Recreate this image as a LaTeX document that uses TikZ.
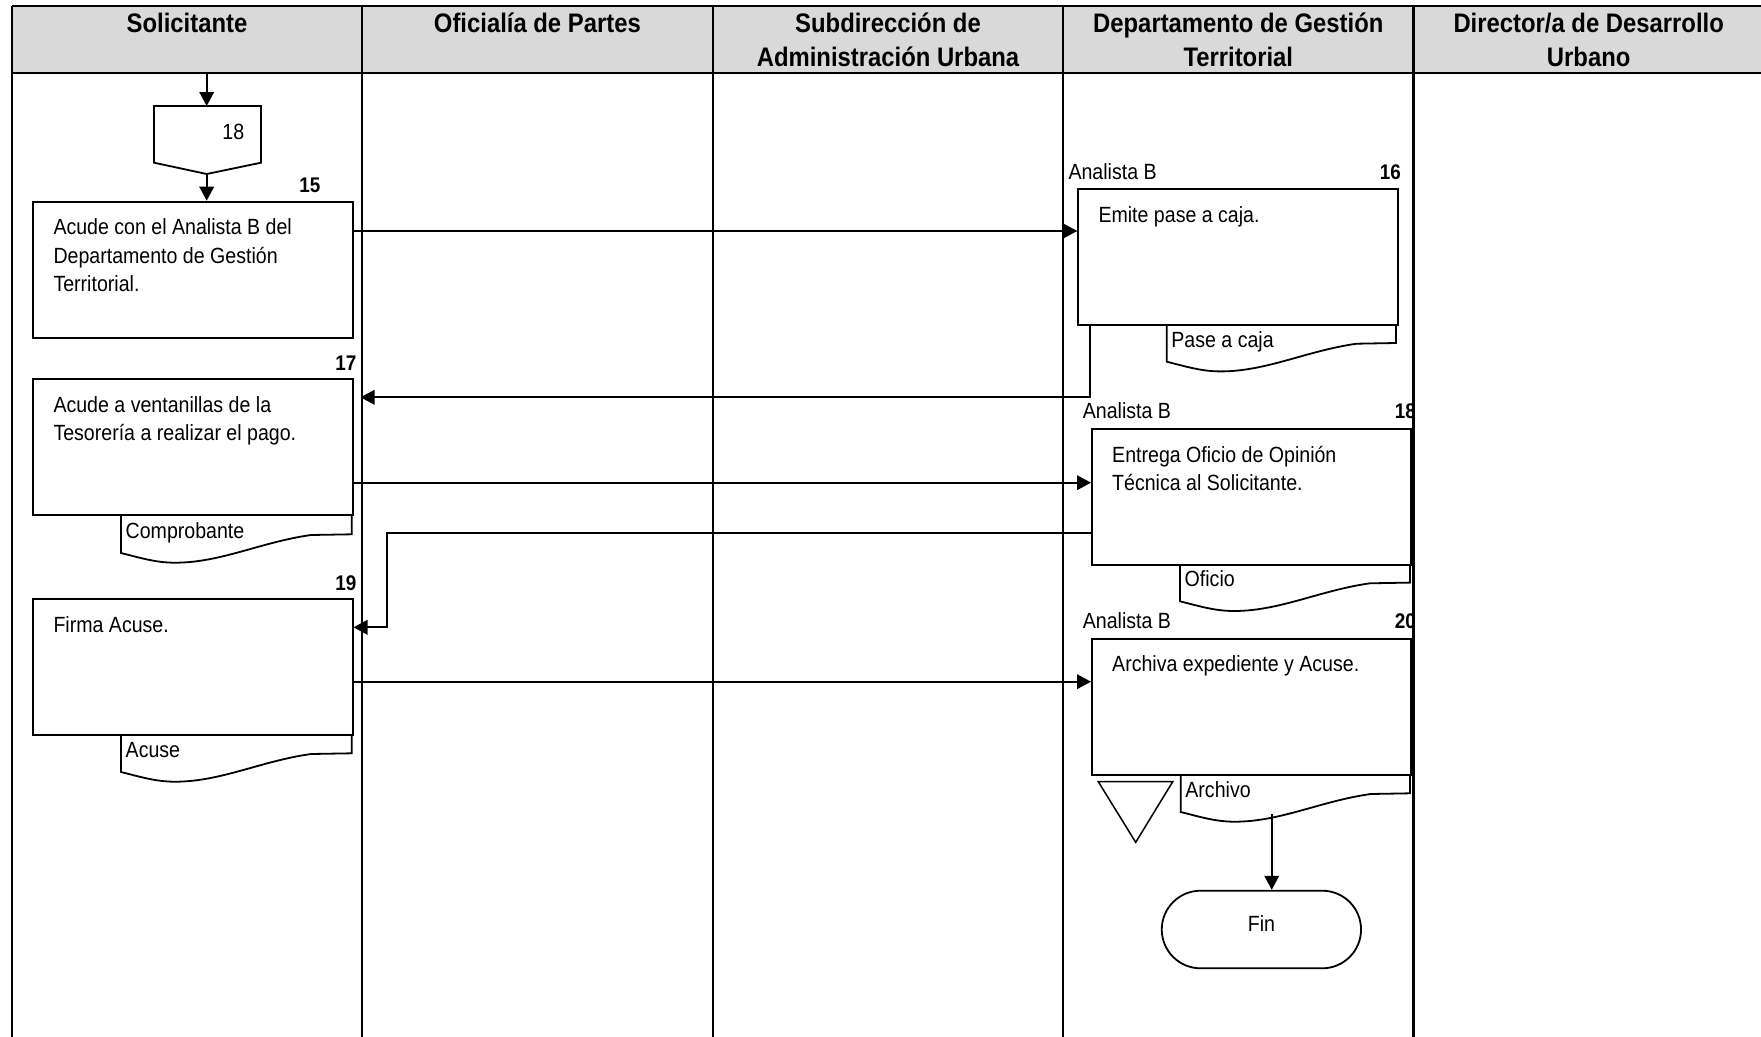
\documentclass[tikz,border=0pt]{standalone}
\usepackage{fontspec}
\setmainfont{Liberation Sans}[FakeStretch=0.89]
\usetikzlibrary{arrows.meta,calc}
\definecolor{headgray}{RGB}{217,217,217}
\tikzset{
  frame/.style={line width=2.2pt},
  procbox/.style={draw, line width=1.8pt, fill=white, inner sep=0pt, anchor=north west,
    minimum width=319.4pt, minimum height=136pt},
  boxtext/.style={anchor=north west, inner sep=0pt, align=left,
    font=\fontsize{22}{28.3}\selectfont},
  lanetitle/.style={anchor=north, inner sep=0pt, align=center,
    font=\fontsize{26.8}{33.5}\selectfont\bfseries},
  rolelabel/.style={anchor=base west, inner sep=0pt, font=\fontsize{22}{25}\selectfont},
  stepnum/.style={anchor=base east, inner sep=0pt, font=\fontsize{21.2}{24}\selectfont\bfseries},
  docline/.style={draw, line width=1.8pt, fill=white},
  doctext/.style={anchor=base west, inner sep=0pt, font=\fontsize{22}{25}\selectfont},
  flow/.style={line width=2pt, -{Triangle[length=14pt,width=14.5pt]}},
}
% document sheet hanging under a process box: #1 left x, #2 right x, #3 top y, #4 name, #5 text
\newcommand\docsheet[5]{%
  \draw[docline] (#2,#3) -- (#2,#3+19.3) -- (#1+190,#3+20)
    .. controls (#1+140,#3+27) and (#1+100,#3+47.7) .. (#1+54,#3+47.7)
    .. controls (#1+35,#3+47.7) and (#1+20,#3+43) .. (#1,#3+38) -- (#1,#3);
  \node[doctext] (#4) at (#1+4.5,#3+23.5) {#5};
}
\begin{document}
\begin{tikzpicture}[x=1pt,y=-1pt]
\useasboundingbox (0,0) rectangle (1761,1036);
\clip (0,0) rectangle (1761,1036);

% header band
\fill[headgray] (12.3,5.7) rectangle (1764,72.7);
\draw[frame] (12.3,5.7) -- (1764,5.7);
\draw[frame] (12.3,72.7) -- (1764,72.7);
\foreach \lx in {12.3,361.7,713,1063,1413.5,1764}
  \draw[frame] (\lx,5.7) -- (\lx,1040);

\node[lanetitle] (h1) at (187,12.9) {Solicitante};
\node[lanetitle] (h2) at (537.4,12.9) {Oficialía de Partes};
\node[lanetitle] (h3) at (888,12.9) {Subdirección de\\Administración Urbana};
\node[lanetitle] (h4) at (1238.3,12.9) {Departamento de Gestión\\Territorial};
\node[lanetitle] (h5) at (1588.7,12.9) {Director/a de Desarrollo\\Urbano};

% off-page connector 18
\draw[line width=1.8pt, fill=white] (154,106) -- (261,106) -- (261,162.7) -- (206.7,174) -- (154,162.7) -- cycle;
\coordinate (c18top) at (206.7,106);
\coordinate (c18tip) at (206.7,174);
\coordinate (entry) at (206.7,72.7);
\node[anchor=base, inner sep=0pt, font=\fontsize{22}{25}\selectfont] (c18) at (233.3,139.5) {18};

% documents
\docsheet{1166.7}{1396}{323.7}{d16}{Pase a caja}
\docsheet{121}{351.7}{515}{d17}{Comprobante}
\docsheet{1180}{1410}{563.3}{d18}{Oficio}
\docsheet{121}{351.7}{734}{d19}{Acuse}
\docsheet{1180.7}{1410}{774}{d20}{Archivo}

% archive triangle
\draw[line width=1.5pt, fill=white] (1098.3,781.7) -- (1172.7,781.7) -- (1135.7,842.3) -- cycle;

% process boxes
\node[procbox] (p15) at (32.3,200.7) {};
\node[procbox] (p17) at (32.3,378.3) {};
\node[procbox] (p19) at (32.3,598.3) {};
\node[procbox] (p16) at (1077.3,188.3) {};
\node[procbox] (p18) at (1091,427.7) {};
\node[procbox] (p20) at (1091,637.7) {};

\node[boxtext] (t15) at ($(p15.north west)+(21,18)$) {Acude con el Analista B del\\Departamento de Gestión\\Territorial.};
\node[boxtext] (t17) at ($(p17.north west)+(21,18)$) {Acude a ventanillas de la\\Tesorería a realizar el pago.};
\node[boxtext] (t19) at ($(p19.north west)+(21,18)$) {Firma Acuse.};
\node[boxtext] (t16) at ($(p16.north west)+(21,18)$) {Emite pase a caja.};
\node[boxtext] (t18) at ($(p18.north west)+(21,18)$) {Entrega Oficio de Opinión\\Técnica al Solicitante.};
\node[boxtext] (t20) at ($(p20.north west)+(21,18)$) {Archiva expediente y Acuse.};

% roles and step numbers
\node[rolelabel] (r16) at ($(p16.north west)+(-9,-8.8)$) {Analista B};
\node[rolelabel] (r18) at ($(p18.north west)+(-8.3,-8.8)$) {Analista B};
\node[rolelabel] (r20) at ($(p20.north west)+(-8.3,-8.8)$) {Analista B};
\node[stepnum] (n15) at (320.5,192.3) {15};
\node[stepnum] (n17) at (356.5,370.3) {17};
\node[stepnum] (n19) at (356.5,590) {19};
\node[stepnum] (n16) at (1401,179.5) {16};
\begin{scope}
  \clip (1063,0) rectangle (1412.4,1036);
  \node[stepnum] (n18) at (1416,418.9) {18};
  \node[stepnum] (n20) at (1416,628.9) {20};
\end{scope}

% terminal
\node[draw, line width=1.8pt, fill=white, rounded corners=38.8pt, minimum width=199.3pt,
  minimum height=77.6pt, inner sep=0pt, text depth=11pt,
  font=\fontsize{22}{25}\selectfont] (fin) at (1261.4,929.5) {Fin};

% flow connectors
\draw[flow] (entry) -- (c18top);
\draw[flow] (c18tip) -- (c18tip |- p15.north);
\draw[flow] ($(p15.north east)+(0,30.3)$) coordinate (a1) -- (a1 -| p16.west);
\coordinate (r17) at ($(p17.north east)+(7,19)$);
\draw[flow] ($(p16.south west)+(12.7,0)$) |- (r17);
\draw[flow] ($(p17.north east)+(0,104.4)$) coordinate (a3) -- (a3 -| p18.west);
\draw[flow] ($(p18.north west)+(0,105.6)$) -- ++(-704.3,0) |- ($(p19.north east)+(0,29)$);
\draw[flow] ($(p19.north east)+(0,83.4)$) coordinate (a5) -- (a5 -| p20.west);
\coordinate (arcbot) at (1271.7,814);
\draw[flow] (arcbot) -- (arcbot |- fin.north);
\end{tikzpicture}
\end{document}
